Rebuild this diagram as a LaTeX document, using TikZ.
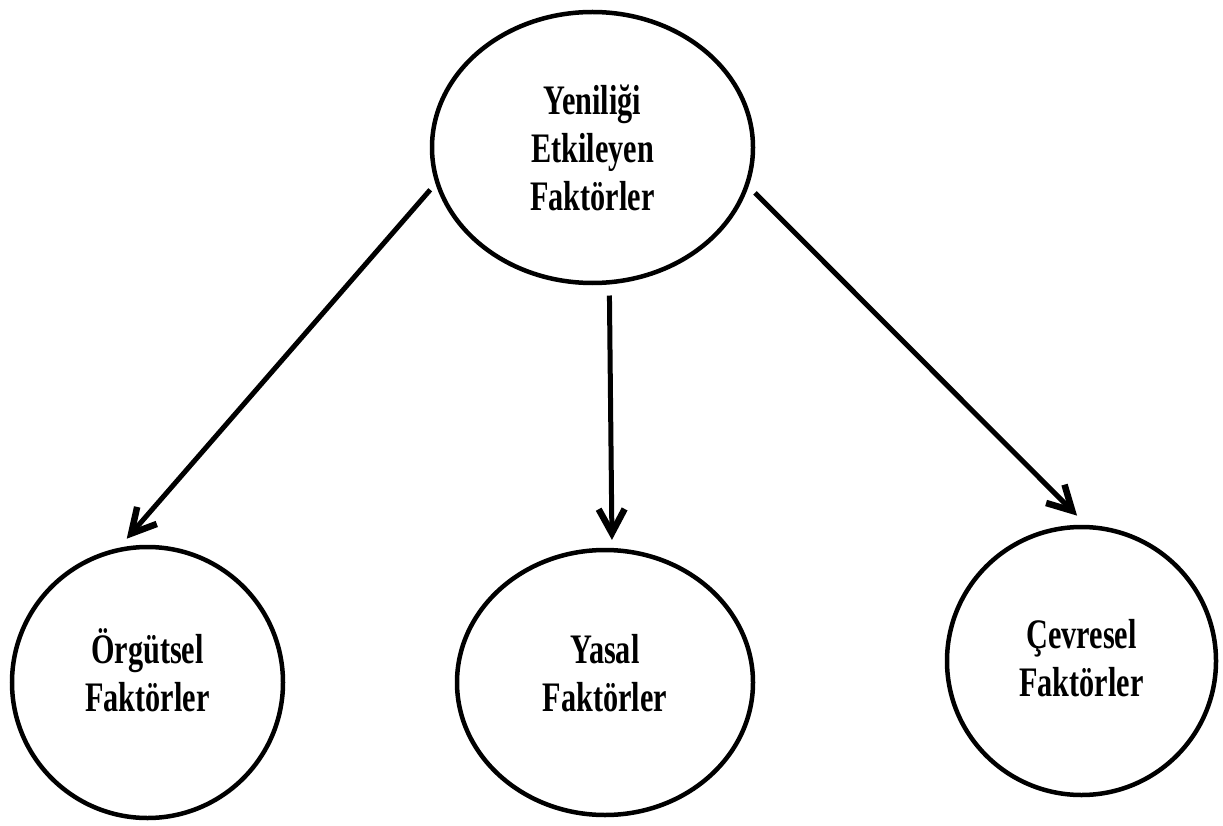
\documentclass[tikz,border=0pt]{standalone}
\usepackage{fontspec}
\newfontfamily\labelfont{Liberation Serif}[FakeStretch=0.72]
\usetikzlibrary{arrows.meta, shapes.geometric}

\begin{document}
\begin{tikzpicture}[
    x=1pt, y=-1pt,
    font=\labelfont\bfseries\fontsize{42}{48}\selectfont,
    factor/.style={ellipse, draw=black, line width=4.5pt, inner sep=0pt, align=center},
    arrow/.style={-{Straight Barb[length=24pt, width=26pt, line width=6.5pt]}, line width=5pt}
]
\useasboundingbox (0,0) rectangle (1223,826);

\node[factor, minimum width=321pt, minimum height=271pt] (yenilik) at (592.5,147.5) {Yeniliği\\Etkileyen\\Faktörler};
\node[factor, minimum width=271pt, minimum height=271pt, text depth=24pt] (orgutsel) at (147.5,682.5) {Örgütsel\\Faktörler};
\node[factor, minimum width=296pt, minimum height=265pt, text depth=20pt] (yasal) at (605,682.5) {Yasal\\Faktörler};
\node[factor, minimum width=269pt, minimum height=268pt, text depth=6pt] (cevresel) at (1081.5,661) {Çevresel\\Faktörler};

\draw[arrow, shorten <=8pt, shorten >=12pt] (yenilik.193.5) -- (orgutsel.102.6);
\draw[arrow, shorten <=11pt, shorten >=8pt] (yenilik.277.5) -- (yasal.87.2);
\draw[arrow, shorten <=9pt, shorten >=13pt] (yenilik.346.6) -- (cevresel.88.7);
\end{tikzpicture}
\end{document}
